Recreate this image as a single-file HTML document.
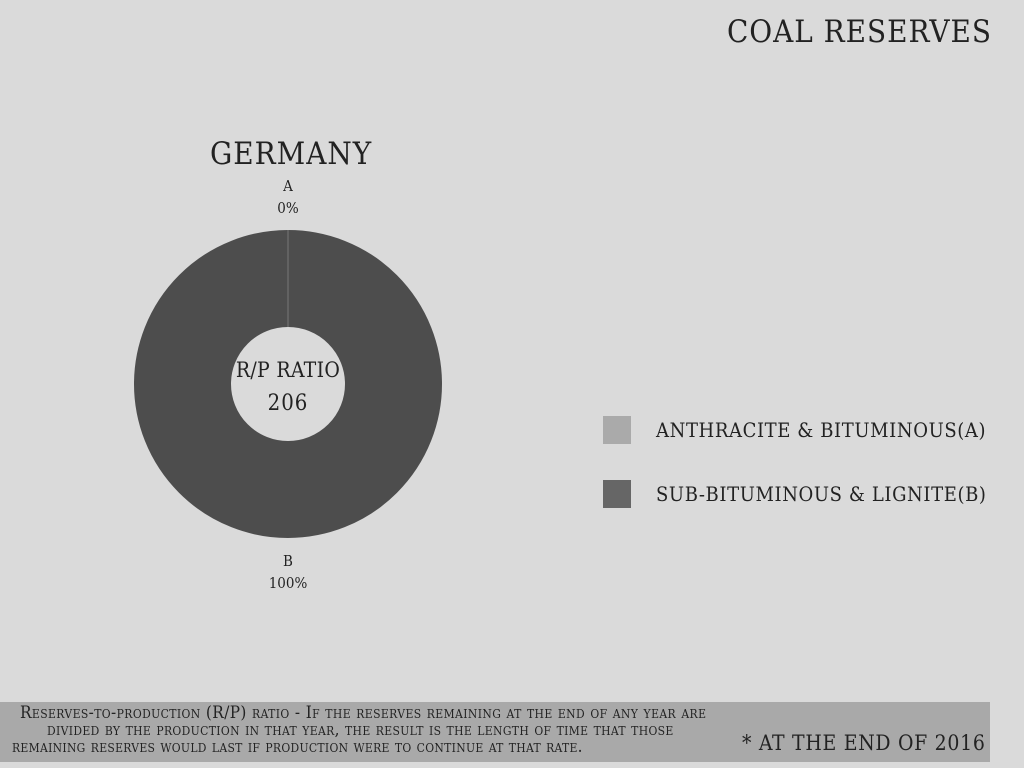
<!DOCTYPE html>
<html><head><meta charset="utf-8"><style>
body{margin:0;width:1024px;height:768px;background:#dadada;overflow:hidden;font-family:"DejaVu Serif Condensed","Liberation Serif",serif;color:#222;position:relative}
.t{position:absolute;white-space:nowrap}
.fl{position:absolute;white-space:nowrap;font-size:17px;font-variant:small-caps;line-height:17px}
</style></head><body>
<div class="t" style="right:32px;top:14px;font-size:31px;letter-spacing:1px">COAL RESERVES</div>
<div class="t" style="left:210px;top:136px;font-size:31px;letter-spacing:1px">GERMANY</div>
<svg id="chart" width="1024" height="768" style="position:absolute;left:0;top:0"></svg>
<div style="position:absolute;left:603px;top:416px;width:28px;height:28px;background:#aaa"></div>
<div class="t" style="left:656px;top:418px;font-size:20px;letter-spacing:0.6px">ANTHRACITE &amp; BITUMINOUS(A)</div>
<div style="position:absolute;left:603px;top:480px;width:28px;height:28px;background:#666"></div>
<div class="t" style="left:656px;top:482px;font-size:20px;letter-spacing:0.6px">SUB-BITUMINOUS &amp; LIGNITE(B)</div>
<div style="position:absolute;left:0;top:702px;width:990px;height:60px;background:#a9a9a9"></div>
<div>
<div class="fl" style="left:20px;top:705px;letter-spacing:0.4px">Reserves-to-production (R/P) ratio - If the reserves remaining at the end of any year are</div>
<div class="fl" style="left:47px;top:722px;letter-spacing:0.35px">divided by the production in that year, the result is the length of time that those</div>
<div class="fl" style="left:12px;top:739px;letter-spacing:0.3px">remaining reserves would last if production were to continue at that rate.</div>
</div>
<div class="t" style="left:742px;top:731px;font-size:21px;letter-spacing:0.7px">* AT THE END OF 2016</div>
<script>
const categories=["A","B"];
const values=[0,100];
const colors=["#aaaaaa","#4d4d4d"];
const ratioLabel="R/P RATIO";
const ratioValue="206";
const svg=document.getElementById('chart');
const NS="http://www.w3.org/2000/svg";
const cx=288,cy=384,R=154,r=57;
const total=values.reduce((a,b)=>a+b,0);
function pt(rad,a){return [cx+rad*Math.sin(a),cy-rad*Math.cos(a)];}
let acc=0;
values.forEach((v,i)=>{
  const a0=acc/total*2*Math.PI;acc+=v;const a1=acc/total*2*Math.PI;
  let el;
  if(v>=total){
    el=document.createElementNS(NS,'circle');
    el.setAttribute('cx',cx);el.setAttribute('cy',cy);el.setAttribute('r',(R+r)/2);
    el.setAttribute('fill','none');el.setAttribute('stroke',colors[i]);el.setAttribute('stroke-width',R-r);
  }else if(v>0){
    el=document.createElementNS(NS,'path');
    const large=(a1-a0)>Math.PI?1:0;
    const p0=pt(R,a0),p1=pt(R,a1),q1=pt(r,a1),q0=pt(r,a0);
    el.setAttribute('d',`M${p0}A${R},${R} 0 ${large} 1 ${p1}L${q1}A${r},${r} 0 ${large} 0 ${q0}Z`);
    el.setAttribute('fill',colors[i]);
  }
  if(el){
    
    
    svg.appendChild(el);
  }
});
const ln=document.createElementNS(NS,'line');
ln.setAttribute('x1',cx);ln.setAttribute('x2',cx);ln.setAttribute('y1',cy-R);ln.setAttribute('y2',cy-r);
ln.setAttribute('stroke','#777');ln.setAttribute('stroke-width','1');


svg.appendChild(ln);
function txt(x,y,s,size,name,ls){
  const t=document.createElementNS(NS,'text');
  t.setAttribute('x',x);t.setAttribute('y',y);t.setAttribute('text-anchor','middle');
  t.setAttribute('font-size',size);t.setAttribute('fill','#222');
  t.setAttribute('letter-spacing',ls||0);
  t.setAttribute('font-family','"DejaVu Serif Condensed","Liberation Serif",serif');
  t.textContent=s;
  
  
  svg.appendChild(t);
}
txt(cx,191,categories[0],15,'label-a-name');
txt(cx,213,values[0]+'%',15,'label-a-value');
txt(cx,566,categories[1],15,'label-b-name');
txt(cx,588,values[1]+'%',15,'label-b-value');
txt(cx,377,ratioLabel,21,'rp-ratio-label',0.3);
txt(cx,410,ratioValue,22,'rp-ratio-value',1);
</script>
</body></html>
